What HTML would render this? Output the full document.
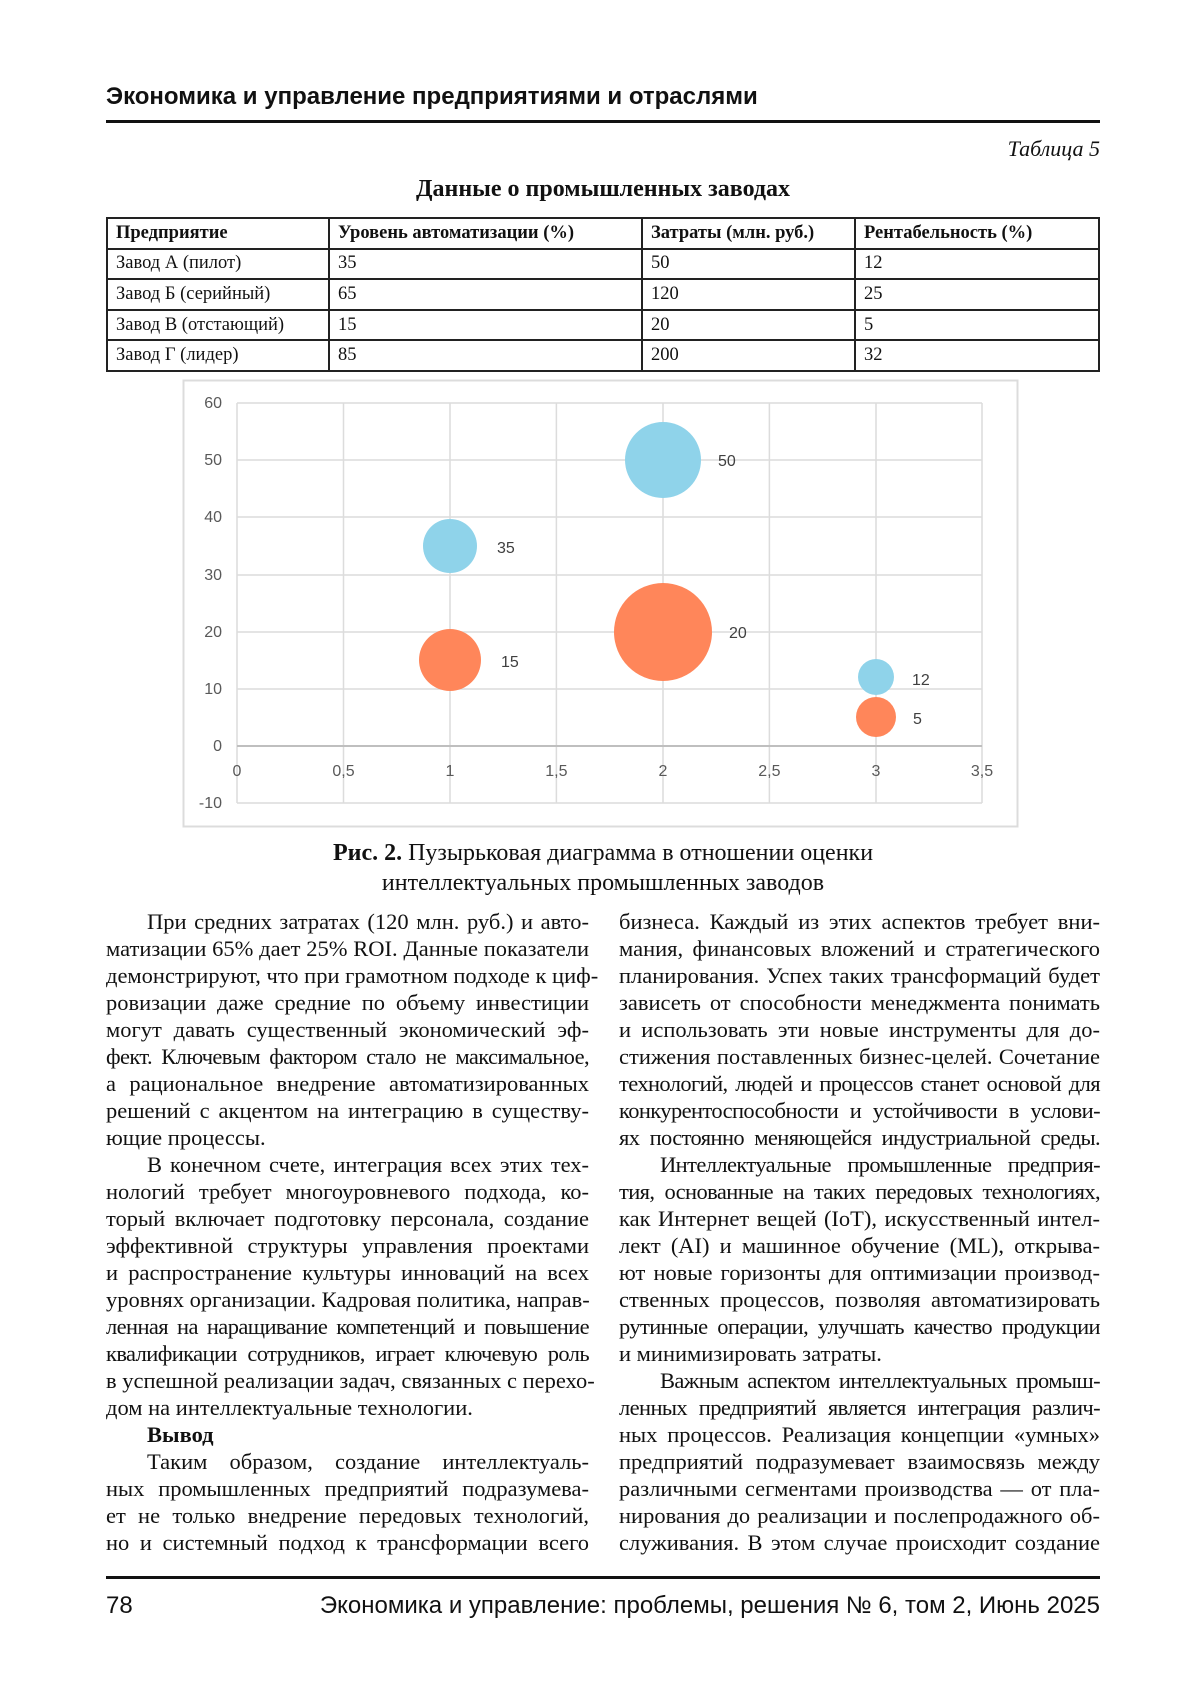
<!DOCTYPE html>
<html><head><meta charset="utf-8">
<style>
*{margin:0;padding:0;box-sizing:border-box}
body{width:1200px;height:1698px;background:#fff;position:relative;font-family:"Liberation Serif","Noto Serif CJK SC",serif;color:#111;overflow:hidden}
.abs{position:absolute}
.hdr{left:106px;top:83px;font-family:"Liberation Sans",sans-serif;font-weight:bold;font-size:24px}
.rule{left:106px;width:994px;height:3px;background:#111}
table{position:absolute;left:106px;top:217px;width:994px;border-collapse:collapse;font-size:18.5px}
td{border:2px solid #222;height:30.6px;padding:0 8px;vertical-align:middle;white-space:nowrap}
.col{position:absolute;font-size:22.5px}
.col div{height:27px;line-height:27px;text-align:justify;text-align-last:justify;white-space:nowrap;overflow:visible}
.col div.l{text-align-last:left}
.col div.i{padding-left:41px}
.col div.t{letter-spacing:-0.6px}
</style></head><body>
<div class="abs hdr">Экономика и управление предприятиями и отраслями</div>
<div class="abs rule" style="top:120px"></div>
<div class="abs" style="right:100px;top:136px;font-style:italic;font-size:22px">Таблица 5</div>
<div class="abs" style="left:0;width:1206px;text-align:center;top:176px;font-weight:bold;font-size:24px">Данные о промышленных заводах</div>
<table>
<tr style="font-weight:bold"><td style="width:222px">Предприятие</td><td style="width:313px">Уровень автоматизации (%)</td><td style="width:213px">Затраты (млн. руб.)</td><td>Рентабельность (%)</td></tr>
<tr><td>Завод А (пилот)</td><td>35</td><td>50</td><td>12</td></tr>
<tr><td>Завод Б (серийный)</td><td>65</td><td>120</td><td>25</td></tr>
<tr><td>Завод В (отстающий)</td><td>15</td><td>20</td><td>5</td></tr>
<tr><td>Завод Г (лидер)</td><td>85</td><td>200</td><td>32</td></tr>
</table>
<svg class="abs" style="left:0;top:0" width="1200" height="1698">
<rect x="183.5" y="380.5" width="834" height="446" fill="#fff" stroke="#dcdcdc" stroke-width="2"/>
<g stroke="#dcdcdc" stroke-width="1.5">
<line x1="237" y1="403" x2="982" y2="403"/><line x1="237" y1="460" x2="982" y2="460"/>
<line x1="237" y1="517" x2="982" y2="517"/><line x1="237" y1="575" x2="982" y2="575"/>
<line x1="237" y1="632" x2="982" y2="632"/><line x1="237" y1="689" x2="982" y2="689"/>
<line x1="237" y1="803" x2="982" y2="803"/>
<line x1="237" y1="403" x2="237" y2="803"/><line x1="343.5" y1="403" x2="343.5" y2="803"/>
<line x1="450" y1="403" x2="450" y2="803"/><line x1="556.4" y1="403" x2="556.4" y2="803"/>
<line x1="663" y1="403" x2="663" y2="803"/><line x1="769.4" y1="403" x2="769.4" y2="803"/>
<line x1="876" y1="403" x2="876" y2="803"/><line x1="982" y1="403" x2="982" y2="803"/>
</g>
<line x1="237" y1="746" x2="982" y2="746" stroke="#bfbfbf" stroke-width="2"/>
<g fill="#8fd3ea">
<circle cx="663" cy="460" r="38"/><circle cx="450" cy="546" r="27"/><circle cx="876" cy="677" r="18"/>
</g>
<g fill="#ff865a">
<circle cx="663" cy="632" r="49"/><circle cx="450" cy="660" r="31"/><circle cx="876" cy="717" r="20"/>
</g>
<g font-family="Liberation Sans,sans-serif" font-size="16" fill="#595959" text-anchor="end">
<text x="222" y="408">60</text><text x="222" y="465">50</text><text x="222" y="522">40</text>
<text x="222" y="580">30</text><text x="222" y="637">20</text><text x="222" y="694">10</text>
<text x="222" y="751">0</text><text x="222" y="808">-10</text>
</g>
<g font-family="Liberation Sans,sans-serif" font-size="16" fill="#595959" text-anchor="middle">
<text x="237" y="776">0</text><text x="343.5" y="776">0,5</text><text x="450" y="776">1</text>
<text x="556.4" y="776">1,5</text><text x="663" y="776">2</text><text x="769.4" y="776">2,5</text>
<text x="876" y="776">3</text><text x="982" y="776">3,5</text>
</g>
<g font-family="Liberation Sans,sans-serif" font-size="16" fill="#404040">
<text x="718" y="466">50</text><text x="497" y="553">35</text><text x="729" y="638">20</text>
<text x="501" y="667">15</text><text x="912" y="685">12</text><text x="913" y="724">5</text>
</g>
</svg>
<div class="abs" style="left:0;width:1206px;text-align:center;top:838px;font-size:24px;line-height:30px"><b>Рис. 2.</b> Пузырьковая диаграмма в отношении оценки<br>интеллектуальных промышленных заводов</div>
<div class="col" style="left:106px;top:908px;width:483px">
<div class="i">При средних затратах (120 млн. руб.) и авто-</div>
<div>матизации 65% дает 25% ROI. Данные показатели</div>
<div>демонстрируют, что при грамотном подходе к циф-</div>
<div>ровизации даже средние по объему инвестиции</div>
<div>могут давать существенный экономический эф-</div>
<div class="t">фект. Ключевым фактором стало не максимальное,</div>
<div>а рациональное внедрение автоматизированных</div>
<div>решений с акцентом на интеграцию в существу-</div>
<div class="l">ющие процессы.</div>
<div class="i">В конечном счете, интеграция всех этих тех-</div>
<div>нологий требует многоуровневого подхода, ко-</div>
<div>торый включает подготовку персонала, создание</div>
<div>эффективной структуры управления проектами</div>
<div>и распространение культуры инноваций на всех</div>
<div>уровнях организации. Кадровая политика, направ-</div>
<div class="t">ленная на наращивание компетенций и повышение</div>
<div class="t">квалификации сотрудников, играет ключевую роль</div>
<div>в успешной реализации задач, связанных с перехо-</div>
<div class="l">дом на интеллектуальные технологии.</div>
<div class="i l"><b>Вывод</b></div>
<div class="i">Таким образом, создание интеллектуаль-</div>
<div>ных промышленных предприятий подразумева-</div>
<div>ет не только внедрение передовых технологий,</div>
<div>но и системный подход к трансформации всего</div>
</div>
<div class="col" style="left:619px;top:908px;width:481px">
<div>бизнеса. Каждый из этих аспектов требует вни-</div>
<div>мания, финансовых вложений и стратегического</div>
<div>планирования. Успех таких трансформаций будет</div>
<div>зависеть от способности менеджмента понимать</div>
<div>и использовать эти новые инструменты для до-</div>
<div>стижения поставленных бизнес-целей. Сочетание</div>
<div class="t">технологий, людей и процессов станет основой для</div>
<div class="t">конкурентоспособности и устойчивости в услови-</div>
<div class="t">ях постоянно меняющейся индустриальной среды.</div>
<div class="i t">Интеллектуальные промышленные предприя-</div>
<div class="t">тия, основанные на таких передовых технологиях,</div>
<div>как Интернет вещей (IoT), искусственный интел-</div>
<div>лект (AI) и машинное обучение (ML), открыва-</div>
<div>ют новые горизонты для оптимизации производ-</div>
<div>ственных процессов, позволяя автоматизировать</div>
<div class="t">рутинные операции, улучшать качество продукции</div>
<div class="l">и минимизировать затраты.</div>
<div class="i t">Важным аспектом интеллектуальных промыш-</div>
<div class="t">ленных предприятий является интеграция различ-</div>
<div>ных процессов. Реализация концепции «умных»</div>
<div>предприятий подразумевает взаимосвязь между</div>
<div>различными сегментами производства — от пла-</div>
<div>нирования до реализации и послепродажного об-</div>
<div>служивания. В этом случае происходит создание</div>
</div>
<div class="abs rule" style="top:1576px"></div>
<div class="abs" style="left:106px;top:1592px;font-family:'Liberation Sans',sans-serif;font-size:24px">78</div>
<div class="abs" style="right:100px;top:1592px;font-family:'Liberation Sans',sans-serif;font-size:24px">Экономика и управление: проблемы, решения № 6, том 2, Июнь 2025</div>
</body></html>
